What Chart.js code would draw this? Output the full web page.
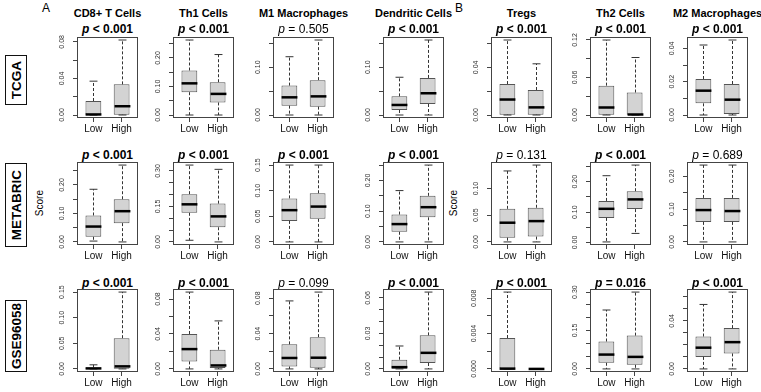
<!DOCTYPE html>
<html>
<head>
<meta charset="utf-8">
<script src="https://cdn.jsdelivr.net/npm/chart.js@4.4.0/dist/chart.umd.min.js"></script>
<style>
  body { margin: 0; background: #fff; }
  #fig { position: relative; width: 761px; height: 392px; overflow: hidden;
         font-family: "Liberation Sans", Arial, sans-serif; color: #000; }
  #fig canvas { position: absolute; }
  .txt { position: absolute; white-space: nowrap; text-align: center; }
  .cohort { position: absolute; box-sizing: border-box; border: 1.5px solid #111;
            display: flex; align-items: center; justify-content: center; }
  .cohort span, .ylab { writing-mode: vertical-rl; transform: rotate(180deg); white-space: nowrap; }
</style>
</head>
<body>
<div id="fig"></div>
<script>
  'use strict';

  // Categories.
  const cellTypes = ['CD8+ T Cells', 'Th1 Cells', 'M1 Macrophages', 'Dendritic Cells', 'Tregs', 'Th2 Cells', 'M2 Macrophages'];
  const cohorts = ['TCGA', 'METABRIC', 'GSE96058'];
  const groups = ['Low', 'High'];

  // p-values, one per cell type.
  const pTCGA = ['< 0.001', '< 0.001', '= 0.505', '< 0.001', '< 0.001', '< 0.001', '< 0.001'];
  const pMETABRIC = ['< 0.001', '< 0.001', '< 0.001', '< 0.001', '= 0.131', '< 0.001', '= 0.689'];
  const pGSE = ['< 0.001', '< 0.001', '= 0.099', '< 0.001', '< 0.001', '= 0.016', '< 0.001'];

  // Box stats: [lower whisker, Q1, median, Q3, upper whisker].
  const tcgaLow = [
    [0, 0.0003, 0.0006, 0.0153, 0.037], [0, 0.080, 0.111, 0.156, 0.263], [0, 0.0196, 0.037, 0.0615, 0.122],
    [0, 0.0105, 0.021, 0.039, 0.079], [0, 0.0003, 0.013, 0.026, 0.063], [0, 0.0005, 0.012, 0.047, 0.12],
    [0, 0.007, 0.0146, 0.0216, 0.042]
  ];
  const tcgaHigh = [
    [0, 0.0003, 0.0096, 0.0335, 0.082], [0, 0.044, 0.074, 0.115, 0.212], [0, 0.0175, 0.039, 0.073, 0.157],
    [0, 0.023, 0.0455, 0.0776, 0.157], [0, 0.0003, 0.0064, 0.021, 0.043], [0, 0.0003, 0.0008, 0.036, 0.092],
    [0, 0.0006, 0.0092, 0.0186, 0.045]
  ];
  const metabricLow = [
    [0.003, 0.018, 0.054, 0.093, 0.185], [0.007, 0.123, 0.159, 0.202, 0.325], [0, 0.041, 0.062, 0.085, 0.15],
    [0, 0.033, 0.058, 0.089, 0.167], [0, 0.008, 0.036, 0.062, 0.133], [0.002, 0.081, 0.111, 0.137, 0.22],
    [0, 0.061, 0.097, 0.134, 0.234]
  ];
  const metabricHigh = [
    [0, 0.066, 0.108, 0.15, 0.27], [0, 0.062, 0.108, 0.162, 0.307], [0, 0.045, 0.069, 0.095, 0.15],
    [0, 0.08, 0.113, 0.15, 0.25], [0, 0.01, 0.039, 0.064, 0.144], [0.03, 0.11, 0.142, 0.169, 0.255],
    [0, 0.061, 0.094, 0.134, 0.234]
  ];
  const gseLow = [
    [0, 0.0003, 0.001, 0.003, 0.008], [0, 0.0086, 0.0227, 0.04, 0.088], [0, 0.0027, 0.0124, 0.0278, 0.077],
    [0, 0.0002, 0.0015, 0.0078, 0.0194], [0, 0, 0.00003, 0.0035, 0.0087], [0, 0.024, 0.056, 0.107, 0.23],
    [0, 0.01, 0.0177, 0.027, 0.0537]
  ];
  const gseHigh = [
    [0, 0.0005, 0.005, 0.06, 0.15], [0, 0.001, 0.004, 0.022, 0.055], [0, 0.0012, 0.0127, 0.036, 0.087],
    [0, 0.005, 0.0136, 0.0284, 0.065], [0, 0, 0, 0.00005, 0.00005], [0, 0.016, 0.047, 0.13, 0.30],
    [0, 0.0129, 0.0223, 0.034, 0.064]
  ];

  // Y tick spacing, and spacing of the ticks that carry a label.
  const tcgaTicks = [0.02, 0.05, 0.05, 0.05, 0.02, 0.03, 0.01];
  const tcgaLabels = [0.04, 0.10, 0.10, 0.10, 0.04, 0.06, 0.02];
  const metabricTicks = [0.05, 0.05, 0.05, 0.05, 0.05, 0.05, 0.05];
  const metabricLabels = [0.10, 0.15, 0.05, 0.10, 0.05, 0.10, 0.10];
  const gseTicks = [0.05, 0.02, 0.02, 0.01, 0.002, 0.05, 0.01];
  const gseLabels = [0.05, 0.04, 0.04, 0.03, 0.004, 0.15, 0.04];

  const pRows = [pTCGA, pMETABRIC, pGSE];
  const lowRows = [tcgaLow, metabricLow, gseLow];
  const highRows = [tcgaHigh, metabricHigh, gseHigh];
  const tickRows = [tcgaTicks, metabricTicks, gseTicks];
  const labelRows = [tcgaLabels, metabricLabels, gseLabels];

  // Layout (pixels).
  const colLeft = [77, 173, 273, 383, 491, 590, 687];
  const panelW = 61;
  const rowTop = [37, 162, 289];
  const rowH = [81, 83, 83];
  const pCenterY = [29, 155, 283];
  const cohortTop = [55, 163, 300];
  const cohortH = [50, 84, 72];
  const padL = 32, padT = 12, padR = 4, padB = 22;

  const FONT = '"Liberation Sans", Arial, sans-serif';
  Chart.defaults.font.family = FONT;

  const fig = document.getElementById('fig');

  function addText(html, cx, cy, size, weight, extra) {
    const el = document.createElement('div');
    el.className = 'txt';
    el.style.left = (cx - 80) + 'px';
    el.style.width = '160px';
    el.style.top = (cy - size / 2) + 'px';
    el.style.height = size + 'px';
    el.style.lineHeight = size + 'px';
    el.style.fontSize = size + 'px';
    el.style.fontWeight = weight;
    if (extra) Object.assign(el.style, extra);
    el.innerHTML = html;
    fig.appendChild(el);
    return el;
  }

  // Draws R-style whiskers, staples, medians and the plot frame.
  const rBoxPlugin = {
    id: 'rBox',
    afterDatasetsDraw(chart) {
      const ctx = chart.ctx;
      const area = chart.chartArea;
      const xs = chart.scales.x;
      const ys = chart.scales.y;
      const ds = chart.data.datasets[0];
      const meta = chart.getDatasetMeta(0);
      const seg = (x1, y1, x2, y2) => {
        ctx.beginPath();
        ctx.moveTo(x1, y1);
        ctx.lineTo(x2, y2);
        ctx.stroke();
      };
      ctx.save();
      ds.stats.forEach(function (s, i) {
        const cx = Math.round(xs.getPixelForValue(i + 1)) + 0.5;
        const half = meta.data[i].width / 2;
        const p = s.map(v => ys.getPixelForValue(v));
        ctx.strokeStyle = '#333';
        ctx.lineWidth = 1;
        ctx.setLineDash([3, 2]);
        if (s[4] > s[3]) seg(cx, p[3], cx, p[4]);
        if (s[1] > s[0]) seg(cx, p[1], cx, p[0]);
        ctx.setLineDash([]);
        seg(cx - half / 2, p[4], cx + half / 2, p[4]);
        seg(cx - half / 2, p[0], cx + half / 2, p[0]);
        ctx.strokeStyle = '#000';
        ctx.lineWidth = 2.5;
        seg(cx - half, p[2], cx + half, p[2]);
      });
      ctx.strokeStyle = '#444';
      ctx.lineWidth = 1;
      ctx.strokeRect(area.left + 0.5, area.top + 0.5, area.width - 1, area.height - 1);
      ctx.restore();
    }
  };

  function makePanel(r, c) {
    const low = lowRows[r][c];
    const high = highRows[r][c];
    const tickStep = tickRows[r][c];
    const labelStep = labelRows[r][c];
    const all = low.concat(high);
    const lo = Math.min.apply(null, all);
    const hi = Math.max.apply(null, all);
    const ext = (hi - lo) * 0.04;
    const dec = Math.max(2, Math.ceil(-Math.log10(labelStep) - 1e-9));

    const canvas = document.createElement('canvas');
    const w = padL + panelW + padR;
    const h = padT + rowH[r] + padB;
    canvas.width = w;
    canvas.height = h;
    canvas.style.left = (colLeft[c] - padL) + 'px';
    canvas.style.top = (rowTop[r] - padT) + 'px';
    canvas.style.width = w + 'px';
    canvas.style.height = h + 'px';
    fig.appendChild(canvas);

    new Chart(canvas, {
      type: 'bar',
      data: {
        datasets: [{
          data: [{ x: 1, y: [low[1], low[3]] }, { x: 2, y: [high[1], high[3]] }],
          stats: [low, high],
          backgroundColor: '#d3d3d3',
          borderColor: '#555',
          borderWidth: 1,
          borderSkipped: false,
          barPercentage: 0.56,
          categoryPercentage: 1
        }]
      },
      options: {
        responsive: false,
        animation: false,
        devicePixelRatio: 1,
        events: [],
        layout: { padding: { left: 0, top: padT, right: padR, bottom: 0 } },
        plugins: { legend: { display: false }, tooltip: { enabled: false } },
        scales: {
          x: {
            type: 'linear',
            min: 0.42,
            max: 2.58,
            offset: false,
            afterBuildTicks: function (s) { s.ticks = groups.map((g, i) => ({ value: i + 1 })); },
            afterFit: function (s) { s.height = padB; },
            grid: { drawOnChartArea: false, offset: false, tickLength: 4, color: '#444' },
            border: { display: false },
            ticks: {
              autoSkip: false, maxRotation: 0, padding: 1, color: '#111',
              font: { size: 10 },
              callback: (v, i) => groups[i]
            }
          },
          y: {
            min: lo - ext,
            max: hi + ext,
            afterBuildTicks: function (s) {
              const t = [];
              for (let k = Math.ceil(s.min / tickStep - 1e-9); k * tickStep <= s.max + 1e-12; k++) {
                t.push({ value: k * tickStep });
              }
              s.ticks = t;
            },
            afterFit: function (s) { s.width = padL; },
            grid: { drawOnChartArea: false, tickLength: 4, color: '#444' },
            border: { display: false },
            ticks: {
              autoSkip: false, minRotation: 90, maxRotation: 90, crossAlign: 'center',
              padding: 4, color: '#333', font: { size: 7 },
              callback: function (v) {
                const q = v / labelStep;
                return Math.abs(q - Math.round(q)) < 1e-6 ? (Math.abs(v) < 1e-12 ? 0 : v).toFixed(dec) : '';
              }
            }
          }
        }
      },
      plugins: [rBoxPlugin]
    });
  }

  // Panel letters and column titles.
  addText('A', 46, 8, 12, 'normal');
  addText('B', 459, 8, 12, 'normal');
  cellTypes.forEach(function (name, c) {
    addText(name, colLeft[c] + panelW / 2, 13, 11, 'bold');
  });

  // Cohort labels.
  cohorts.forEach(function (name, r) {
    const box = document.createElement('div');
    box.className = 'cohort';
    box.style.left = '5px';
    box.style.width = '22px';
    box.style.top = cohortTop[r] + 'px';
    box.style.height = cohortH[r] + 'px';
    box.innerHTML = '<span style="font-size:13.5px;font-weight:bold">' + name + '</span>';
    fig.appendChild(box);
  });

  // "Score" axis titles on the METABRIC row.
  [0, 4].forEach(function (c) {
    const el = addText('<span class="ylab" style="display:inline-block">Score</span>',
      colLeft[c] - 37, rowTop[1] + rowH[1] / 2, 10, 'normal');
    el.style.height = '40px';
    el.style.top = (rowTop[1] + rowH[1] / 2 - 20) + 'px';
    el.style.lineHeight = '10px';
    el.style.display = 'flex';
    el.style.alignItems = 'center';
    el.style.justifyContent = 'center';
  });

  // Panels with p-values.
  for (let r = 0; r < cohorts.length; r++) {
    for (let c = 0; c < cellTypes.length; c++) {
      const pt = pRows[r][c];
      const sig = pt.charAt(0) === '<' || parseFloat(pt.slice(2)) < 0.05;
      addText('<i>p</i> ' + pt.replace('<', '&lt;'), colLeft[c] + panelW / 2, pCenterY[r], 12, sig ? 'bold' : 'normal');
      makePanel(r, c);
    }
  }
</script>
</body>
</html>
